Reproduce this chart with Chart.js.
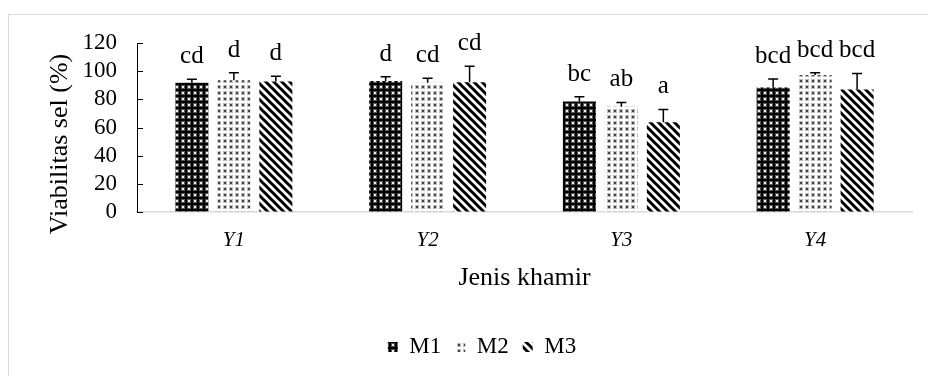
<!DOCTYPE html>
<html>
<head>
<meta charset="utf-8">
<script src="https://cdn.jsdelivr.net/npm/chart.js@4/dist/chart.umd.min.js"></script>
<style>
  html, body { margin: 0; padding: 0; background: #fff; }
  #wrap { width: 928px; height: 376px; position: relative; }
</style>
</head>
<body>
<div id="wrap"><canvas id="chart" width="928" height="376"></canvas></div>
<script>
// ---- data ----
const CATEGORIES = ['Y1', 'Y2', 'Y3', 'Y4'];
const SERIES_NAMES = ['M1', 'M2', 'M3'];

const M1_VALUES = [91.7, 93.1, 78.5, 88.4];
const M2_VALUES = [93.6, 91.7, 75.0, 97.2];
const M3_VALUES = [92.7, 92.2, 63.8, 87.0];

const M1_ERR = [2.6, 2.9, 3.3, 6.1];
const M2_ERR = [5.2, 3.3, 2.8, 1.6];
const M3_ERR = [3.7, 11.3, 9.0, 11.4];

const M1_LETTERS = ['cd', 'd', 'bc', 'bcd'];
const M2_LETTERS = ['d', 'cd', 'ab', 'bcd'];
const M3_LETTERS = ['d', 'cd', 'a', 'bcd'];

const Y_MIN = 0, Y_MAX = 120, Y_STEP = 20;

const FONT = "'Liberation Serif', 'Times New Roman', serif";

// ---- fill patterns ----
function makeTile(size, draw) {
  const c = document.createElement('canvas');
  c.width = size; c.height = size;
  draw(c.getContext('2d'), size);
  return document.getElementById('chart').getContext('2d').createPattern(c, 'repeat');
}

const PAT_DARK = makeTile(6, (g) => {
  g.fillStyle = '#000'; g.fillRect(0, 0, 6, 6);
  g.fillStyle = '#555'; g.fillRect(1, 1, 4, 4);
  g.fillStyle = '#eee'; g.fillRect(2, 2, 2, 2);
});

const PAT_DOTS = makeTile(6, (g) => {
  g.fillStyle = '#fff'; g.fillRect(0, 0, 6, 6);
  g.fillStyle = '#bbb'; g.fillRect(1, 1, 4, 4);
  g.fillStyle = '#444'; g.fillRect(2, 2, 2, 2);
});

const PAT_DIAG = makeTile(8, (g, s) => {
  g.fillStyle = '#fff'; g.fillRect(0, 0, s, s);
  g.strokeStyle = '#000'; g.lineWidth = 3;
  g.beginPath();
  g.moveTo(-2, -2); g.lineTo(s + 2, s + 2);
  g.moveTo(-2, s - 2); g.lineTo(2, s + 2);
  g.moveTo(s - 2, -2); g.lineTo(s + 2, 2);
  g.stroke();
});

const ERRORS = [M1_ERR, M2_ERR, M3_ERR];
const LETTERS = [M1_LETTERS, M2_LETTERS, M3_LETTERS];

// frame around the chart (cropped at right/bottom in the source)
const framePlugin = {
  id: 'frame',
  beforeDraw(chart) {
    const ctx = chart.ctx;
    ctx.save();
    ctx.fillStyle = '#fff';
    ctx.fillRect(0, 0, chart.width, chart.height);
    ctx.strokeStyle = '#d9d9d9';
    ctx.lineWidth = 1;
    ctx.beginPath();
    ctx.moveTo(8.5, chart.height);
    ctx.lineTo(8.5, 14.5);
    ctx.lineTo(chart.width, 14.5);
    ctx.stroke();
    ctx.restore();
  }
};

// inside tick marks on the value axis + rotated axis title
const yAxisExtras = {
  id: 'yAxisExtras',
  afterDraw(chart) {
    const ctx = chart.ctx;
    const y = chart.scales.y;
    ctx.save();
    ctx.strokeStyle = '#000';
    ctx.lineWidth = 1;
    y.ticks.forEach((t) => {
      const py = Math.round(y.getPixelForValue(t.value)) + 0.5;
      ctx.beginPath();
      ctx.moveTo(y.right, py);
      ctx.lineTo(y.right + 6, py);
      ctx.stroke();
    });
    ctx.fillStyle = '#000';
    ctx.font = '26px ' + FONT;
    ctx.textAlign = 'center';
    ctx.textBaseline = 'alphabetic';
    ctx.translate(67, 144);
    ctx.rotate(-Math.PI / 2);
    ctx.fillText('Viabilitas sel (%)', 0, 0);
    ctx.restore();
  }
};

// error bars (plus side) and significance letters
const errorLetters = {
  id: 'errorLetters',
  afterDatasetsDraw(chart) {
    const ctx = chart.ctx;
    const y = chart.scales.y;
    ctx.save();
    chart.data.datasets.forEach((ds, i) => {
      const meta = chart.getDatasetMeta(i);
      meta.data.forEach((bar, j) => {
        const top = y.getPixelForValue(ds.data[j] + ERRORS[i][j]);
        ctx.strokeStyle = '#000';
        ctx.lineWidth = 1.5;
        ctx.beginPath();
        ctx.moveTo(bar.x, bar.y);
        ctx.lineTo(bar.x, top);
        ctx.moveTo(bar.x - 5, top);
        ctx.lineTo(bar.x + 5, top);
        ctx.stroke();
        ctx.fillStyle = '#000';
        ctx.font = '25px ' + FONT;
        ctx.textAlign = 'center';
        ctx.textBaseline = 'alphabetic';
        ctx.fillText(LETTERS[i][j], bar.x, top - 16);
      });
    });
    ctx.restore();
  }
};

new Chart(document.getElementById('chart'), {
  type: 'bar',
  data: {
    labels: CATEGORIES,
    datasets: [
      { label: SERIES_NAMES[0], data: M1_VALUES, backgroundColor: PAT_DARK },
      { label: SERIES_NAMES[1], data: M2_VALUES, backgroundColor: PAT_DOTS },
      { label: SERIES_NAMES[2], data: M3_VALUES, backgroundColor: PAT_DIAG }
    ]
  },
  options: {
    responsive: false,
    animation: false,
    devicePixelRatio: 1,
    layout: { padding: { left: 52, right: 16, top: 43, bottom: 7.5 } },
    datasets: {
      bar: { barPercentage: 0.786, categoryPercentage: 0.65, borderWidth: 0 }
    },
    scales: {
      x: {
        grid: { display: false, drawTicks: false },
        border: { display: true, color: '#d9d9d9', width: 1.5 },
        ticks: { color: '#000', padding: 16, font: { family: FONT, size: 21, style: 'italic' } },
        title: {
          display: true, text: 'Jenis khamir', color: '#000',
          font: { family: FONT, size: 26 }, padding: { top: 0, bottom: 28 }
        },
        afterFit(scale) { scale.height = 109.5; }
      },
      y: {
        min: Y_MIN, max: Y_MAX,
        grid: { drawOnChartArea: false, drawTicks: false },
        border: { display: true, color: '#000', width: 1 },
        ticks: {
          stepSize: Y_STEP, autoSkip: false, color: '#000', padding: 20,
          font: { family: FONT, size: 23 }
        },
        afterFit(scale) { scale.width = 85; }
      }
    },
    plugins: {
      legend: {
        position: 'bottom',
        labels: {
          color: '#000', boxWidth: 10, boxHeight: 10, padding: 14,
          font: { family: FONT, size: 23 }
        }
      },
      tooltip: { enabled: false }
    }
  },
  plugins: [framePlugin, yAxisExtras, errorLetters]
});
</script>
</body>
</html>
